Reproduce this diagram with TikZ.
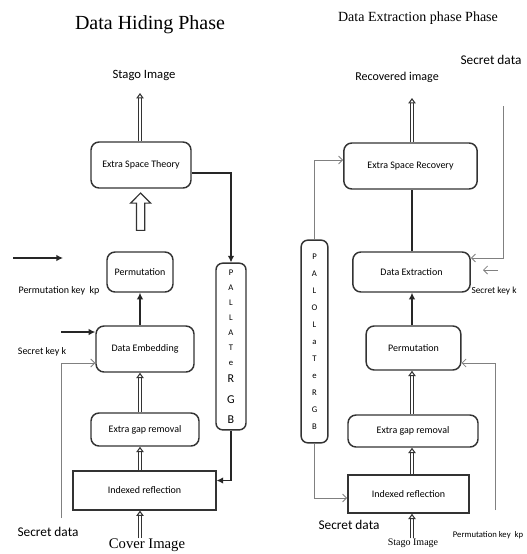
\documentclass[tikz,border=0pt]{standalone}
\usepackage{fontspec}
\setmainfont{Carlito}
\newfontfamily\ttlfont{Liberation Serif}
\usetikzlibrary{arrows.meta,shapes.arrows,calc}

\tikzset{
  blk/.style={draw=black!80, line width=1.1pt, rounded corners=6pt, align=center,
    inner sep=1pt, font=\fontsize{7.5}{9}\selectfont},
  sqblk/.style={blk, rounded corners=0pt},
  palbox/.style={draw=black!80, line width=1.1pt, rounded corners=5pt, align=center,
    inner sep=0pt},
  lbl/.style={inner sep=0pt, font=\fontsize{7.5}{9}\selectfont},
  dblarr/.style={draw=black!80, double=white, double distance=1.4pt, line width=0.8pt,
    -{Triangle[open, length=4pt, width=5.5pt, line width=0.8pt]}},
  thk/.style={draw=black!85, line width=1.3pt, -{Latex[length=5pt, width=5pt]}},
  thn/.style={draw=black!50, line width=0.6pt, -{Straight Barb[length=3pt, width=6pt]}},
  hollow/.style={draw=black!80, line width=0.9pt, single arrow, rotate=90, inner sep=2.6pt,
    single arrow head extend=4.5pt, single arrow head indent=0pt, minimum height=28pt},
}

\begin{document}
\begin{tikzpicture}[x=0.75pt, y=-0.75pt]
  \useasboundingbox (0,0) rectangle (527,554);
  %% data hiding phase
  \node[font=\ttlfont\fontsize{15}{18}\selectfont] (ttlA) at (150,25) {Data Hiding Phase};
  \node[lbl, font=\fontsize{9.5}{11}\selectfont] (stagoA) at (144,75) {Stago Image};
  \node[blk, minimum width=75pt, minimum height=34.5pt] (est) at (141,165) {Extra Space Theory};
  \node[blk, minimum width=49.5pt, minimum height=30pt] (permA) at (140,272) {Permutation};
  \node[blk, minimum width=73.5pt, minimum height=34.5pt] (emb) at (145,349) {Data Embedding};
  \node[blk, minimum width=81pt, minimum height=24.75pt] (gapA) at (145,429.5) {Extra gap removal};
  \node[sqblk, minimum width=107pt, minimum height=29pt] (idxA) at (144.5,490.5) {Indexed reflection};
  \node[palbox, minimum width=22.5pt, minimum height=125pt,
    font=\fontsize{6.5}{11.25}\selectfont] (palA) at (231,346.5)
    {P\\A\\L\\L\\A\\T\\e\\[2pt]{\fontsize{9}{10}\selectfont R}\\[4pt]%
     {\fontsize{9}{10}\selectfont G}\\[4pt]{\fontsize{9}{10}\selectfont B}};
  \node[lbl] (pkA) at (59,291) {Permutation key\ \ kp};
  \node[lbl] (skA) at (42,352) {Secret key k};
  \node[lbl, font=\fontsize{10}{12}\selectfont] (sdA) at (48,532) {Secret data};
  \node[inner sep=0pt, font=\ttlfont\fontsize{11}{13}\selectfont] (covA) at (147,545) {Cover Image};
  \node[hollow] (upA) at ($(permA.north)!0.6!(est.south)$) {};
  \coordinate (stA0) at (140,93);
  \coordinate (inA1) at (13,258);
  \coordinate (inA1e) at (63,258);
  \coordinate (inA2) at (61,332);
  \coordinate (sdA1) at (61,518);
  \coordinate (sdA2) at (61,363);
  %% connectors
  \draw[dblarr] (est.north -| stA0) -- (stA0);
  \draw[thk] (emb.north -| permA) -- (permA.south);
  \draw[dblarr] (gapA.north -| permA) -- (emb.south -| permA);
  \draw[dblarr] (idxA.north -| permA) -- (gapA.south -| permA);
  \draw[dblarr] (covA.north -| permA) -- (idxA.south -| permA);
  \draw[thk] (inA1) -- (inA1e);
  \draw[thk] (inA2) -- (inA2 -| emb.west);
  \draw[thn] (sdA1) -- (sdA2) -- (sdA2 -| emb.west);
  \draw[thk] ([yshift=-6pt]est.east) -| (palA.north);
  \draw[thk] (palA.south) |- ([yshift=7.5pt]idxA.east);

  %% data extraction phase
  \node[font=\ttlfont\fontsize{10.5}{12}\selectfont] (ttlB) at (418,18) {Data Extraction phase Phase};
  \node[lbl, font=\fontsize{10}{12}\selectfont] (sdB) at (491,60) {Secret data};
  \node[lbl, font=\fontsize{9}{11}\selectfont] (recB) at (397,77) {Recovered image};
  \node[blk, minimum width=100pt, minimum height=34.5pt] (esr) at (410.5,166) {Extra Space Recovery};
  \node[blk, minimum width=88pt, minimum height=30pt] (ext) at (411.5,272) {Data Extraction};
  \node[blk, minimum width=71pt, minimum height=33pt] (permB) at (413.5,348) {Permutation};
  \node[blk, minimum width=97.5pt, minimum height=24pt] (gapB) at (413,431) {Extra gap removal};
  \node[sqblk, minimum width=91pt, minimum height=28.5pt] (idxB) at (408.5,494) {Indexed reflection};
  \node[palbox, minimum width=20pt, minimum height=152pt,
    font=\fontsize{6.5}{12.75}\selectfont] (palB) at (314.5,341.5)
    {P\\A\\L\\O\\L\\a\\T\\e\\R\\G\\B};
  \node[lbl, font=\fontsize{7}{9}\selectfont] (skB) at (494,291) {Secret key k};
  \node[lbl, font=\fontsize{6.5}{8}\selectfont] (pkB) at (488,535) {Permutation key\ \ kp};
  \node[lbl, font=\fontsize{10}{12}\selectfont] (sdB2) at (349,525) {Secret data};
  \node[inner sep=0pt, font=\ttlfont\fontsize{7.5}{9}\selectfont] (stagoB) at (413,543) {Stago Image};
  \coordinate (recB0) at (412,98);
  \coordinate (sdB0) at (503,106);
  \coordinate (skB0) at (498,270);
  \coordinate (skB1) at (483,270);
  \coordinate (pkB0) at (495,510);
  %% connectors
  \draw[dblarr] (esr.north -| recB0) -- (recB0);
  \draw[draw=black!85, line width=1.3pt] (ext.north -| recB0) -- (esr.south -| recB0);
  \draw[thk] (permB.north -| recB0) -- (ext.south -| recB0);
  \draw[dblarr] (gapB.north -| recB0) -- (permB.south -| recB0);
  \draw[dblarr] (idxB.north -| recB0) -- (gapB.south -| recB0);
  \draw[dblarr] (stagoB.north -| recB0) -- (idxB.south -| recB0);
  \draw[thn] (palB.north) |- ([yshift=4.5pt]esr.west);
  \draw[thn] (palB.south) |- ([yshift=-3pt]idxB.west);
  \draw[thn] (sdB0) |- ([yshift=10.5pt]ext.east);
  \draw[thn] (skB0) -- (skB1);
  \draw[thn] (pkB0) |- ([yshift=-11.25pt]permB.east);
\end{tikzpicture}
\end{document}
